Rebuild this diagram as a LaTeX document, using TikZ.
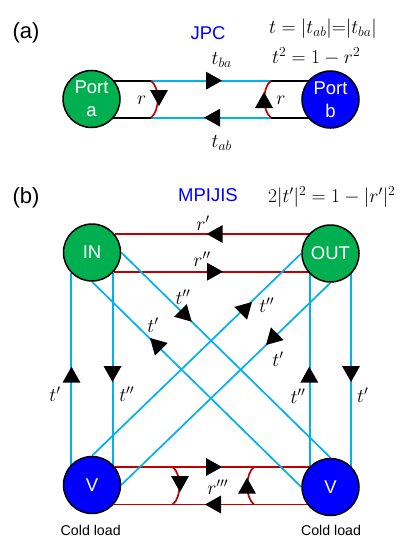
\documentclass[tikz,border=0pt]{standalone}
\usepackage{fix-cm}
\usepackage{fontspec}
\setmainfont{Liberation Sans}
\usetikzlibrary{backgrounds}
\definecolor{cgreen}{HTML}{00B050}
\definecolor{cblue}{HTML}{0000FF}
\definecolor{cyanl}{HTML}{00B0F0}
\definecolor{redl}{HTML}{C00000}
\newcommand{\tri}[3]{\fill[black,shift={(#1,#2)},rotate=#3] (0,0) -- (-16,9) -- (-16,-9) -- cycle;}
\tikzset{
  x=1pt,y=-1pt,
  port/.style={circle,draw=black,line width=1.5pt,minimum size=57pt,inner sep=0pt,text=white,align=center,font=\fontsize{18.5}{23}\selectfont},
  pgreen/.style={port,fill=cgreen},
  pblue/.style={port,fill=cblue},
  wire/.style={line width=1.7pt},
  blk/.style={wire,draw=black},
  cy/.style={wire,draw=cyanl},
  rd/.style={wire,draw=redl},
  lab/.style={inner sep=0pt,font=\fontsize{19.5}{23}\selectfont},
  head/.style={inner sep=0pt,text=cblue,font=\fontsize{18.5}{22}\selectfont},
  tag/.style={inner sep=0pt,font=\fontsize{22}{26}\selectfont},
  cold/.style={inner sep=0pt,font=\fontsize{14.2}{17}\selectfont},
}
\begin{document}
\begin{tikzpicture}
\useasboundingbox (0,0) rectangle (415,551);
% nodes
\node[pgreen] (pa) at (91.5,99) {Port\\a};
\node[pblue] (pb) at (330.5,99.5) {Port\\b};
\node[pgreen] (in) at (92,252.5) {IN};
\node[pgreen] (out) at (330.5,253.5) {OUT};
\node[pblue] (vl) at (92,485) {V};
\node[pblue] (vr) at (330.5,487) {V};
\coordinate (a1) at (151,80.7);
\coordinate (a2) at (151,117.7);
\coordinate (b1) at (271,80.7);
\coordinate (b2) at (271,117.7);
\coordinate (c1) at (172.7,467);
\coordinate (c2) at (172.7,504.5);
\coordinate (d1) at (254,467);
\coordinate (d2) at (254,504.5);
\begin{scope}[on background layer]
  % (a)
  \draw[blk] (a1 -| pa.center) -- (a1);
  \draw[blk] (a2 -| pa.center) -- (a2);
  \draw[blk] (b1) -- (b1 -| pb.center);
  \draw[blk] (b2) -- (b2 -| pb.center);
  \draw[cy] (a1) -- (b1);
  \draw[cy] (b2) -- (a2);
  \draw[rd] (a1) .. controls +(9,7) and +(9,-7) .. (a2);
  \draw[rd] (b1) .. controls +(-9,7) and +(-9,-7) .. (b2);
  % (b) reds
  \draw[rd] (in.39 -| out.center) -- (in.39);
  \draw[rd] (in.-41) -- (in.-41 -| out.center);
  \draw[rd] (vl.38) -- (vl.38 -| vr.center);
  \draw[rd] (vl.-42 -| vr.center) -- (vl.-42);
  \draw[rd] (c1) .. controls +(9,7) and +(9,-7) .. (c2);
  \draw[rd] (d1) .. controls +(-9,7) and +(-9,-7) .. (d2);
  % verticals
  \draw[cy] (in.225 |- vl.center) -- (in.225);
  \draw[cy] (in.-45) -- (in.-45 |- vl.center);
  \draw[cy] (out.225 |- vr.center) -- (out.225);
  \draw[cy] (out.-45) -- (out.-45 |- vr.center);
  % diagonals
  \draw[cy] (in.east) -- (vr.north);
  \draw[cy] (vr.west) -- (in.south);
  \draw[cy] (vl.north) -- (out.west);
  \draw[cy] (out.south) -- (vl.east);
\end{scope}
% arrowheads
\tri{222}{80.7}{0}
\tri{204}{117.7}{180}
\tri{159}{106}{-90}
\tri{264}{92}{90}
\tri{206.7}{234}{180}
\tri{223}{271.7}{0}
\tri{222}{467}{0}
\tri{205}{504.5}{180}
\tri{180}{492}{-90}
\tri{247}{477.7}{90}
\tri{71.5}{366.7}{90}
\tri{112.5}{382}{-90}
\tri{309.3}{366.7}{90}
\tri{351}{382}{-90}
\tri{191.7}{321.7}{-45}
\tri{150}{338}{135}
\tri{252}{302}{45}
\tri{266}{345}{225}
% labels
\node[tag] (ta) at (26,33) {(a)};
\node[tag] (tb) at (26,198) {(b)};
\node[head] (jpc) at (208,33) {JPC};
\node[head] (mp) at (208,195) {MPIJIS};
\node[lab,anchor=west] (e1) at (269,29) {$t=|t_{ab}|{=}|t_{ba}|$};
\node[lab,anchor=west] (e2) at (272,56) {$t^2=1-r^2$};
\node[lab,anchor=west] (e3) at (268,197) {$2|t'|^2=1-|r'|^2$};
\node[lab] (ltba) at (221.7,60) {$t_{ba}$};
\node[lab] (ltab) at (221.7,143) {$t_{ab}$};
\node[lab] (lr1) at (141.7,100) {$r$};
\node[lab] (lr2) at (281,100) {$r$};
\node[lab] (lrp) at (203,223) {$r'$};
\node[lab] (lrpp) at (202,259) {$r''$};
\node[lab] (ld1) at (183,297) {$t''$};
\node[lab] (ld2) at (266.7,305) {$t''$};
\node[lab] (ld3) at (153,325) {$t'$};
\node[lab] (ld4) at (278,359) {$t'$};
\node[lab] (lv1) at (55,394) {$t'$};
\node[lab] (lv2) at (126.7,394) {$t''$};
\node[lab] (lv3) at (298,396) {$t''$};
\node[lab] (lv4) at (362.7,395) {$t'$};
\node[lab] (lrppp) at (217.7,487) {$r'''$};
\node[cold] (cl) at (90.7,530) {Cold load};
\node[cold] (cr) at (331,530) {Cold load};
\end{tikzpicture}
\end{document}
